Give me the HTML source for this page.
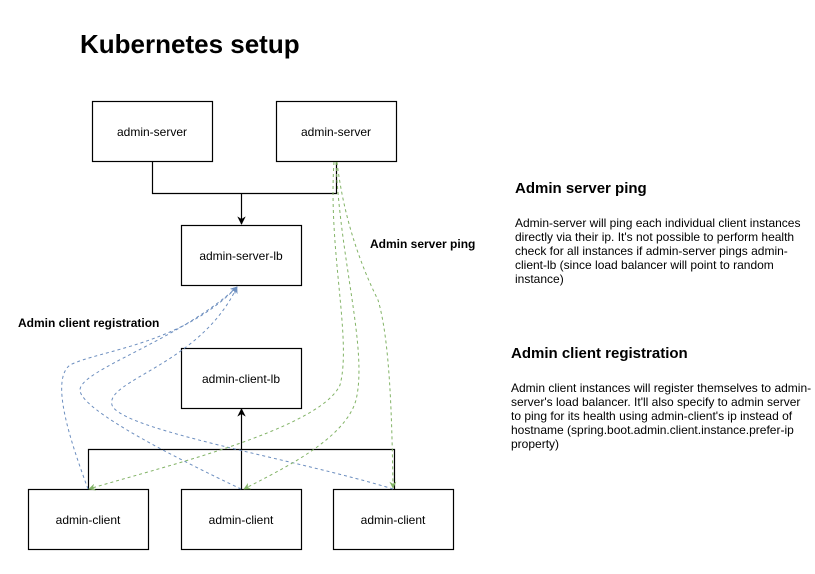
<!DOCTYPE html>
<html><head><meta charset="utf-8"><style>
html,body{margin:0;padding:0;background:#fff;}
svg{display:block;font-family:"Liberation Sans",Arial,sans-serif;}
</style></head><body>
<svg width="815" height="574" viewBox="0 0 815 574" xmlns="http://www.w3.org/2000/svg">
<defs>
<marker id="ab" viewBox="0 0 10 10" refX="9" refY="5" markerWidth="7" markerHeight="7" orient="auto-start-reverse"><path d="M0,0 L10,5 L0,10 L3,5 z" fill="#000"/></marker>
<marker id="ag" viewBox="0 0 10 10" refX="9" refY="5" markerWidth="7" markerHeight="7" orient="auto"><path d="M0,0 L10,5 L0,10 L3,5 z" fill="#82b366"/></marker>
<marker id="au" viewBox="0 0 10 10" refX="9" refY="5" markerWidth="7" markerHeight="7" orient="auto"><path d="M0,0 L10,5 L0,10 L3,5 z" fill="#6c8ebf"/></marker>
</defs>
<text x="80" y="53" font-size="26" font-weight="bold">Kubernetes setup</text>
<g fill="#fff" stroke="#000" stroke-width="1.2">
<rect x="92.5" y="101.5" width="120" height="60"/>
<rect x="276.5" y="101.5" width="120" height="60"/>
<rect x="181.5" y="225.5" width="120" height="60"/>
<rect x="181.5" y="348.5" width="120" height="60"/>
<rect x="28.5" y="489.5" width="120" height="60"/>
<rect x="181.5" y="489.5" width="120" height="60"/>
<rect x="333.5" y="489.5" width="120" height="60"/>
</g>
<g font-size="12" text-anchor="middle">
<text x="152" y="136">admin-server</text>
<text x="336" y="136">admin-server</text>
<text x="241" y="260">admin-server-lb</text>
<text x="241" y="383">admin-client-lb</text>
<text x="88" y="524">admin-client</text>
<text x="241" y="524">admin-client</text>
<text x="393" y="524">admin-client</text>
</g>
<g fill="none" stroke="#000" stroke-width="1.2">
<path d="M152.5,161 V193.5 H336.5 V161"/>
<path d="M241.5,193 V224" marker-end="url(#ab)"/>
<path d="M88.5,489 V449.5 H394.5 V489"/>
<path d="M241.5,489 V409" marker-end="url(#ab)"/>
</g>
<g fill="none" stroke="#6c8ebf" stroke-width="1" stroke-dasharray="3,3">
<path d="M88,489 C70,440 50,380 70,365 C100,350 180,345 237,287" marker-end="url(#au)"/>
<path d="M241,489 C180,460 80,410 80,390 C80,370 180,340 237,287" marker-end="url(#au)"/>
<path d="M393,489 C300,460 120,430 112,405 C105,380 200,365 237,287" marker-end="url(#au)"/>
</g>
<g fill="none" stroke="#82b366" stroke-width="1" stroke-dasharray="3,3">
<path d="M334,162 C328,250 352,340 340,385 C320,430 150,470 89,489" marker-end="url(#ag)"/>
<path d="M336,162 C340,260 368,350 356,400 C345,440 280,470 244,489" marker-end="url(#ag)"/>
<path d="M337,162 C345,230 368,280 378,300 C390,340 392,420 393,488" marker-end="url(#ag)"/>
</g>
<g font-size="12" font-weight="bold">
<text x="370" y="248">Admin server ping</text>
<text x="18" y="327">Admin client registration</text>
</g>
<g font-size="15" font-weight="bold">
<text x="515" y="193">Admin server ping</text>
<text x="511" y="358">Admin client registration</text>
</g>
<g font-size="12">
<text x="515" y="227">Admin-server will ping each individual client instances</text>
<text x="515" y="241">directly via their ip. It's not possible to perform health</text>
<text x="515" y="255">check for all instances if admin-server pings admin-</text>
<text x="515" y="269">client-lb (since load balancer will point to random</text>
<text x="515" y="283">instance)</text>
<text x="511" y="392">Admin client instances will register themselves to admin-</text>
<text x="511" y="406">server's load balancer. It'll also specify to admin server</text>
<text x="511" y="420">to ping for its health using admin-client's ip instead of</text>
<text x="511" y="434">hostname (spring.boot.admin.client.instance.prefer-ip</text>
<text x="511" y="448">property)</text>
</g>
</svg>
</body></html>
